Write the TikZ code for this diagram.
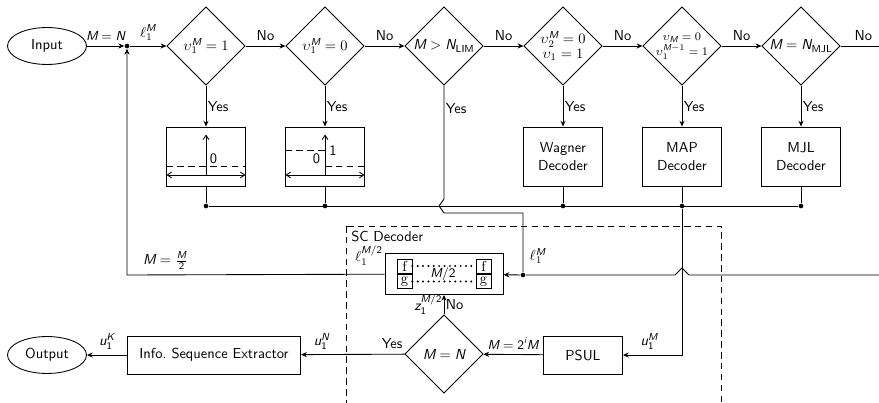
\documentclass[tikz,border=0pt]{standalone}
\usepackage{amsmath}
\usetikzlibrary{shapes.geometric,arrows.meta,positioning}

% sans-serif italic letters for the math labels
\newcommand{\sv}[1]{\textsf{\itshape #1}}
\newcommand{\sn}[1]{\textsf{#1}}

\tikzset{
  decision/.style={diamond, draw, aspect=1, inner sep=-3pt, minimum width=54pt, minimum height=54pt, align=center},
  block/.style={rectangle, draw, minimum width=54.5pt, minimum height=40.7pt, align=center},
  terminal/.style={ellipse, draw, minimum width=54.5pt, minimum height=25.5pt},
  flow/.style={-{Stealth[length=4pt,width=3.5pt]}},
  barb/.style={-{Straight Barb[length=3pt,width=4pt]}},
  junction/.style={circle, fill, inner sep=0pt, minimum size=3.2pt},
  cell/.style={draw, thin, inner sep=0pt, minimum width=10.4pt, minimum height=9.6pt, font=\rmfamily},
  smalltext/.style={font=\sffamily\small},
  tinytext/.style={font=\sffamily\footnotesize}
}

\begin{document}
\begin{tikzpicture}[x=0.69pt, y=-0.69pt, font=\sffamily, semithick]
  \useasboundingbox (0,0) rectangle (879,403);
  % Input and the chain of node-type checks
  \node[terminal] (input) at (47,46) {Input};
  \node[junction] (jin) at (127,46) {};
  \node[decision] (chkzero) at (206,46) {$\upsilon_1^{\sv{M}} = 1$};
  \node[decision] (chkone) at (325,46) {$\upsilon_1^{\sv{M}} = 0$};
  \node[decision] (chklim) at (444,46) {$\sv{M} > \sv{N}_{\text{LIM}}$};
  \node[decision, inner sep=-5pt] (chkspc) at (563,46) {$\upsilon_2^{\sv{M}} = 0$\\[-2pt]$\upsilon_1 = 1$};
  \node[decision, tinytext] (chkrep) at (682,46) {$\upsilon_{\sv{M}} = 0$\\[1pt]$\upsilon_1^{\sv{M}-1} = 1$};
  \node[decision] (chkmjl) at (801,46) {$\sv{M} = \sv{N}_{\text{MJL}}$};
  \coordinate (rtop) at (886,46);
  \coordinate (rbot) at (886,275);
  % Special decoders
  \node[block] (rzero) at (206,156.5) {};
  \node[block] (rone) at (325,156.5) {};
  \node[block] (wagner) at (563,156.5) {Wagner\\Decoder};
  \node[block] (map) at (682,156.5) {MAP\\Decoder};
  \node[block] (mjl) at (801,156.5) {MJL\\Decoder};
  % Output bus
  \node[junction] (jzero) at (206,206) {};
  \node[junction] (jone) at (325,206) {};
  \node[junction] (jwag) at (563,206) {};
  \node[junction] (jmap) at (682,206) {};
  \node[junction] (jmjl) at (801,206) {};
  % SC decoder
  \draw[dash pattern=on 4.5pt off 3pt] (346,226) rectangle (721,420);
  \node[anchor=north west] at (346,226) {SC Decoder};
  \node[draw, minimum width=81.4pt, minimum height=28.3pt] (sc) at (444,274) {};
  \node[cell] (fl) at (404.5,266) {f};
  \node[cell] (gl) at (404.5,281.5) {g};
  \node[cell] (fr) at (483.5,266) {f};
  \node[cell] (gr) at (483.5,281.5) {g};
  \node[smalltext, inner sep=0pt] at (443,274) {$\sv{M}/\sn{2}$};
  \node[junction] (jsc) at (523,275) {};
  \node[decision] (eqn) at (444,354) {$\sv{M} = \sv{N}$};
  \node[draw, minimum width=54.5pt, minimum height=26.2pt] (psul) at (583,355) {PSUL};
  \node[draw, minimum width=119.5pt, minimum height=26.2pt] (info) at (214,355) {Info.\ Sequence Extractor};
  \node[terminal] (output) at (47,355) {Output};

  % Top row
  \draw[flow] (input) -- node[above, smalltext]{$\sv{M} = \sv{N}$} (jin);
  \draw[flow] (jin) -- node[above]{$\ell_1^{\sv{M}}$} (chkzero);
  \draw[flow] (chkzero) -- node[above]{No} (chkone);
  \draw[flow] (chkone) -- node[above]{No} (chklim);
  \draw[flow] (chklim) -- node[above]{No} (chkspc);
  \draw[flow] (chkspc) -- node[above]{No} (chkrep);
  \draw[flow] (chkrep) -- node[above]{No} (chkmjl);
  \draw (chkmjl) -- node[above, pos=0.5]{No} (rtop) -- (rbot);
  % Yes branches
  \draw[flow] (chkzero) -- node[right, inner sep=1pt]{Yes} (rzero);
  \draw[flow] (chkone) -- node[right, inner sep=1pt]{Yes} (rone);
  \draw[flow] (chkspc) -- node[right, inner sep=1pt]{Yes} (wagner);
  \draw[flow] (chkrep) -- node[right, inner sep=1pt]{Yes} (map);
  \draw[flow] (chkmjl) -- node[right, inner sep=1pt]{Yes} (mjl);
  \draw (chklim) -- node[right, inner sep=1pt, pos=0.2]{Yes} (444,199)
    -- (439,206) -- (444,213) -- (523,213) -- (jsc);
  % Rate-0 and rate-1 pictograms
  \begin{scope}[shift={(rzero.center)}]
    \draw[dash pattern=on 4.5pt off 3pt] (-39.5,9.5) -- (39.5,9.5);
    \draw[barb] (0,18.5) -- (-39.5,18.5);
    \draw[barb] (0,18.5) -- (39.5,18.5);
    \draw[barb] (0,18.5) -- (0,-22);
    \node[inner sep=0pt] at (7.5,2.5) {0};
  \end{scope}
  \begin{scope}[shift={(rone.center)}]
    \draw[dash pattern=on 4.5pt off 3pt] (-39.5,-6) -- (0,-6);
    \draw[dash pattern=on 4.5pt off 3pt] (0,9.5) -- (39.5,9.5);
    \draw[barb] (0,18.5) -- (-39.5,18.5);
    \draw[barb] (0,18.5) -- (39.5,18.5);
    \draw[barb] (0,18.5) -- (0,-22);
    \node[inner sep=0pt] at (8,-6) {1};
    \node[inner sep=0pt] at (-8.5,2.5) {0};
  \end{scope}
  % Decoder outputs
  \draw (rzero) -- (jzero);
  \draw (rone) -- (jone);
  \draw (wagner) -- (jwag);
  \draw (map) -- (jmap);
  \draw (mjl) -- (jmjl);
  \draw (jzero) -- (jmjl);
  \draw[flow] (jmap) -- (682,355) -- node[above, pos=0.55]{$\sv{u}_{\sn{1}}^{\sv{M}}$} (psul);
  % Into and out of the SC decoder
  \draw (rbot) -- (689,275) -- (682,268) -- (675,275) -- (jsc);
  \node[above right=4pt and 1pt] at (jsc) {$\ell_1^{\sv{M}}$};
  \draw[flow] (jsc) -- (sc);
  \draw[flow] (sc) -- node[above left, pos=0, inner sep=1pt, yshift=5pt]{$\ell_1^{\sv{M}/\sn{2}}$}
    node[above, pos=0.85]{$\sv{M} = \frac{\sv{M}}{\sn{2}}$} (127,275) -- (jin);
  \draw[dash pattern=on 0pt off 3.7pt, line cap=round, line width=1.5pt] (fl) -- (fr);
  \draw[dash pattern=on 0pt off 3.7pt, line cap=round, line width=1.5pt] (gl) -- (gr);
  \draw[flow] (eqn) -- node[left, inner sep=1pt]{$\sv{z}_{\sn{1}}^{\sv{M}/\sn{2}}$} node[right, inner sep=1pt]{No} (sc);
  \draw[flow] (psul) -- node[above, smalltext]{$\sv{M} = \sn{2}^{\sv{i}}\sv{M}$} (eqn);
  \draw[flow] (eqn) -- node[above, pos=0.12]{Yes} node[above, pos=0.8]{$\sv{u}_{\sn{1}}^{\sv{N}}$} (info);
  \draw[flow] (info) -- node[above]{$\sv{u}_{\sn{1}}^{\sv{K}}$} (output);
\end{tikzpicture}
\end{document}
